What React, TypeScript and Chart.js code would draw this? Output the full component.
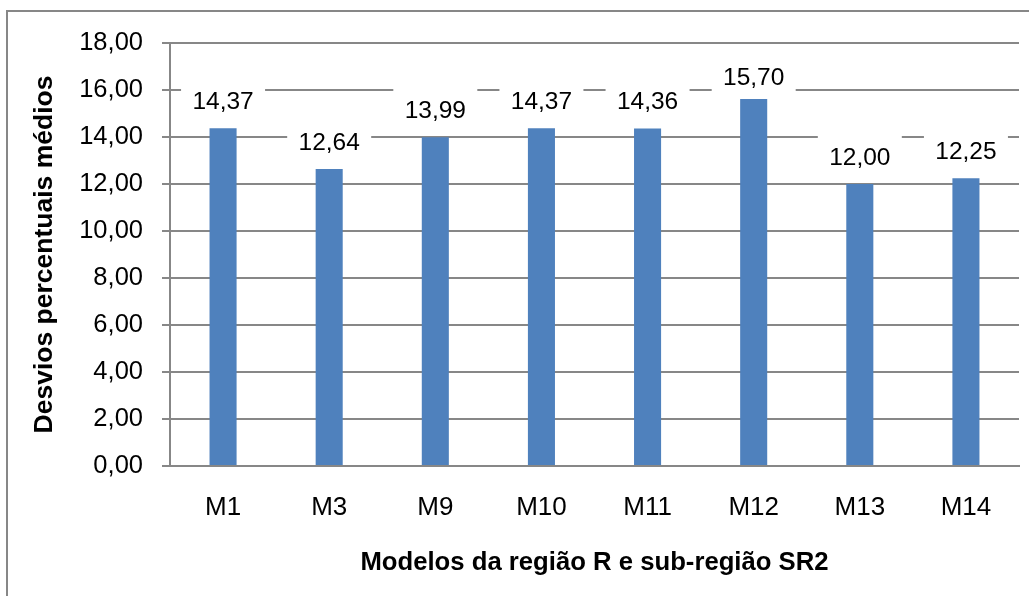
import React, { useEffect, useRef } from "react";
import { Chart, registerables } from "chart.js";

Chart.register(...registerables);

const categories = ["M1", "M3", "M9", "M10", "M11", "M12", "M13", "M14"];
const values = [14.37, 12.64, 13.99, 14.37, 14.36, 15.7, 12.0, 12.25];
const yMin = 0;
const yMax = 18;
const yStep = 2;
const xTitle = "Modelos da região R e sub-região SR2";
const yTitle = "Desvios percentuais médios";

const FONT = "'Liberation Sans', Arial, sans-serif";
const GRID = "#878787";

const fmt = (v: number) => v.toFixed(2).replace(".", ",");

const labelPlugin = {
  id: "boxLabels",
  afterDatasetsDraw(chart: any) {
    const ctx = chart.ctx;
    const meta = chart.getDatasetMeta(0);
    const area = chart.chartArea;
    ctx.save();
    ctx.font = `24.5px ${FONT}`;
    ctx.textAlign = "center";
    ctx.textBaseline = "middle";
    meta.data.forEach((bar: any, i: number) => {
      const cx = bar.x;
      const cy = Math.max(bar.y - 27, area.top + 34);
      ctx.fillStyle = "#ffffff";
      ctx.fillRect(cx - 42, cy - 22, 84, 44);
      ctx.fillStyle = "#000000";
      ctx.fillText(fmt(values[i]), cx, cy + 1);
    });
    ctx.restore();
  },
};

export default function App() {
  const ref = useRef<HTMLCanvasElement | null>(null);
  useEffect(() => {
    if (!ref.current) return;
    const chart = new Chart(ref.current, {
      type: "bar",
      data: {
        labels: categories,
        datasets: [
          {
            data: values,
            backgroundColor: "#4F81BD",
            borderWidth: 0,
            barPercentage: 0.255,
            categoryPercentage: 1,
          },
        ],
      },
      options: {
        animation: false,
        responsive: false,
        maintainAspectRatio: false,
        layout: { padding: { top: 43, right: 10, left: 0, bottom: 0 } },
        plugins: {
          legend: { display: false },
          tooltip: { enabled: false },
          title: { display: false },
        },
        scales: {
          x: {
            type: "category",
            offset: true,
            grid: { display: false, drawTicks: false },
            border: { display: true, color: GRID, width: 2 },
            ticks: {
              color: "#000",
              font: { family: FONT, size: 26 },
              padding: 26,
              maxRotation: 0,
              autoSkip: false,
            },
            title: {
              display: true,
              text: xTitle,
              color: "#000",
              font: { family: FONT, size: 25.7, weight: "bold" },
              padding: { top: 0, bottom: 18 },
            },
            afterFit(scale: any) {
              scale.height = 130;
            },
          },
          y: {
            min: yMin,
            max: yMax,
            grid: { color: GRID, lineWidth: 2, tickLength: 8, drawTicks: true },
            border: { display: true, color: GRID, width: 2 },
            ticks: {
              stepSize: yStep,
              color: "#000",
              font: { family: FONT, size: 25.5 },
              padding: 19,
              callback: (v: any) => fmt(Number(v)),
            },
            title: {
              display: true,
              text: yTitle,
              color: "#000",
              font: { family: FONT, size: 26.5, weight: "bold" },
              padding: { top: 29, bottom: 0 },
            },
            afterFit(scale: any) {
              scale.width = 170;
            },
          },
        },
      },
      plugins: [labelPlugin],
    });
    return () => chart.destroy();
  }, []);

  return (
    <div
      style={{
        position: "fixed",
        left: 0,
        top: 0,
        width: 1029,
        height: 596,
        background: "#fff",
        overflow: "hidden",
      }}
    >
      <div
        style={{
          position: "absolute",
          left: 6,
          top: 10,
          width: 1100,
          height: 700,
          borderLeft: `2px solid ${GRID}`,
          borderTop: `2px solid ${GRID}`,
        }}
      />
      <canvas
        ref={ref}
        width={1029}
        height={596}
        style={{ position: "absolute", left: 0, top: 0, width: 1029, height: 596 }}
      />
    </div>
  );
}
